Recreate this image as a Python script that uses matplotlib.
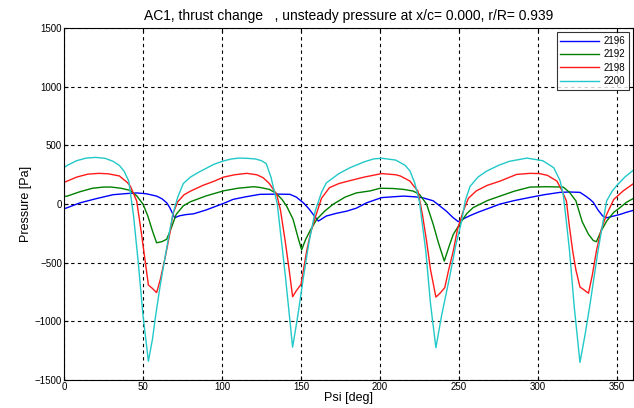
import matplotlib
matplotlib.use("Agg")
import matplotlib.pyplot as plt

plt.rcParams['font.family'] = ['Liberation Sans', 'DejaVu Sans']

# Data (psi in deg, pressure in Pa)
psi_2196 = [0, 2, 10, 20, 31, 40, 46, 52, 58.6, 62, 65, 67, 70, 73, 77, 82, 90, 101, 107, 115,
            124, 135, 143, 147, 151.5, 155, 159, 161, 166, 172, 179, 185, 191.6, 201, 208, 215,
            222, 227, 233.7, 238, 242, 246.4, 249.6, 253, 256.7, 262, 268, 276, 285, 295, 304,
            314, 320, 326.6, 330, 333, 335, 338, 341, 343.5, 347, 352, 356, 360]
p_2196 = [-40, -31, 10, 45, 80, 90, 95, 88, 68, 45, 11, -32, -117, -100, -90, -83, -50, 6, 40, 62,
          83, 85, 83, 60, 11, -40, -111, -145, -102, -80, -60, -35, 11, 55, 62, 68,
          62, 54, 28, -17, -60, -117, -150, -125, -100, -70, -40, 0, 30, 57, 80,
          100, 103, 100, 70, 40, 15, -50, -102, -117, -105, -88, -70, -55]

psi_2192 = [0, 2, 10, 18, 25, 30, 36, 41.8, 46, 50, 53, 56, 58.6, 62, 65, 68, 71, 75.5, 80, 84,
            90, 101, 110, 120, 124, 130, 134, 138, 141, 145, 148, 150.4, 153, 156, 160, 165,
            170.5, 178, 185, 194, 200, 208, 215, 221, 225, 229.5, 233.7, 237, 240.7, 244,
            246.4, 251.7, 255, 259, 268, 276, 285, 295, 305, 316, 320, 324, 328, 332, 335,
            337, 340, 343.5, 348, 352, 356, 360]
p_2192 = [65, 68, 105, 135, 145, 145, 135, 117, 70, 0, -100, -230, -330, -320, -300, -200, -88, -15, 20, 40,
          70, 113, 135, 148, 142, 125, 95, 40, -20, -130, -280, -390, -300, -220, -130, -60,
          0, 60, 95, 113, 135, 133, 125, 111, 83, 0, -173, -330, -486, -350,
          -258, -145, -80, -30, 30, 68, 110, 145, 148, 145, 100, 28, -150, -258, -310,
          -321, -230, -145, -70, -30, 15, 45]

psi_2198 = [0, 2, 8, 15, 22, 28, 35, 40, 42, 46, 49, 51, 53.4, 56, 58.6, 61, 64, 67, 69, 72, 76,
            80, 88, 95, 101, 108, 115.6, 122, 126, 130, 134.6, 137, 140, 142.5, 144.7, 147, 150,
            153.6, 156, 159, 163, 168, 174, 181, 190, 201, 210, 213, 219, 221, 224, 227, 229.5,
            232, 235.4, 238, 241, 243.5, 246.4, 249, 252.7, 256, 261, 268, 276, 286.5, 295,
            301, 306, 312, 315, 318, 320, 322, 324, 326.6, 329, 332, 334.5, 337, 340, 343.5,
            348, 354, 360]
p_2198 = [185, 196, 230, 255, 262, 258, 240, 185, 153, 26, -250, -450, -690, -720, -755, -640, -457, -250, -80, 20, 80,
          110, 160, 195, 230, 250, 262, 250, 225, 175, 83, -50, -316, -560, -790, -740, -685,
          -400, -250, -115, 50, 140, 175, 200, 230, 260, 250, 239, 196, 160, 111, -100, -316,
          -560, -793, -760, -713, -560, -400, -220, -60, 50, 113, 160, 196, 253, 262,
          260, 245, 196, 120, 28, -200, -400, -560, -707, -730, -760, -600, -400, -220, -88,
          40, 113, 170]

psi_2200 = [0, 2, 8, 14, 20, 26, 31, 35, 38, 41, 44, 47, 50, 53.4, 56, 58, 60.8, 64, 67, 69, 72,
            75.5, 80, 85, 90, 95, 101, 106, 111, 116, 121, 125, 128, 131, 135, 140, 144.7, 148,
            151.5, 155, 159, 163, 166, 174, 181, 190, 196, 201, 210, 216, 219, 222, 225, 229,
            232, 235.4, 239, 244, 248, 251.7, 254, 257, 262, 267.5, 275, 282, 293, 303, 310,
            314, 316, 318, 320, 323, 326.6, 330, 333, 338, 343.5, 347, 350, 355, 360]
p_2200 = [310, 330, 370, 392, 398, 390, 365, 330, 280, 196, -100, -500, -950, -1340, -1150, -950, -700, -450, -220, -80, 60,
          175, 230, 270, 305, 340, 368, 385, 392, 390, 385, 370, 345, 230, 0, -600, -1220, -950,
          -628, -330, -60, 100, 180, 260, 310, 360, 385, 391, 375, 330, 282, 180, 20, -400,
          -850, -1225, -950, -628, -350, -145, 30, 150, 230, 281, 330, 365, 392, 370, 310,
          200, 83, -150, -400, -880, -1350, -1100, -850, -400, 28, 110, 160, 230, 285]

series = [("2196", psi_2196, p_2196, "#0000ff"),
          ("2192", psi_2192, p_2192, "#008000"),
          ("2198", psi_2198, p_2198, "#ff1a1a"),
          ("2200", psi_2200, p_2200, "#22c8c8")]

fig = plt.figure(figsize=(6.34, 4.08), dpi=100)
ax = fig.add_axes([0.101, 0.0686, 0.897, 0.8624])

for name, x, y, c in series:
    ax.plot(x, y, color=c, linewidth=1.0, label=name)

ax.set_xlim(0, 360)
ax.set_ylim(-1500, 1500)
ax.set_xticks(range(0, 351, 50))
ax.set_yticks(range(-1500, 1501, 500))
ax.tick_params(axis='both', direction='in', labelsize=7, top=True, right=True, length=3, pad=1.5)
ax.grid(True, color='black', linestyle=(0, (3, 3)), linewidth=0.8)

ax.set_title("AC1, thrust change   , unsteady pressure at x/c= 0.000, r/R= 0.939", fontsize=10, pad=6)
ax.set_xlabel("Psi [deg]", fontsize=9, labelpad=0)
ax.set_ylabel("Pressure [Pa]", fontsize=9, labelpad=2)

leg = ax.legend(loc='upper right', fontsize=7, handlelength=4.0, frameon=True, fancybox=False,
                borderaxespad=0.4, labelspacing=0.35, handletextpad=0.4, borderpad=0.4)
leg.get_frame().set_edgecolor('black')
leg.get_frame().set_linewidth(0.8)

plt.savefig("out.png", dpi=100)
